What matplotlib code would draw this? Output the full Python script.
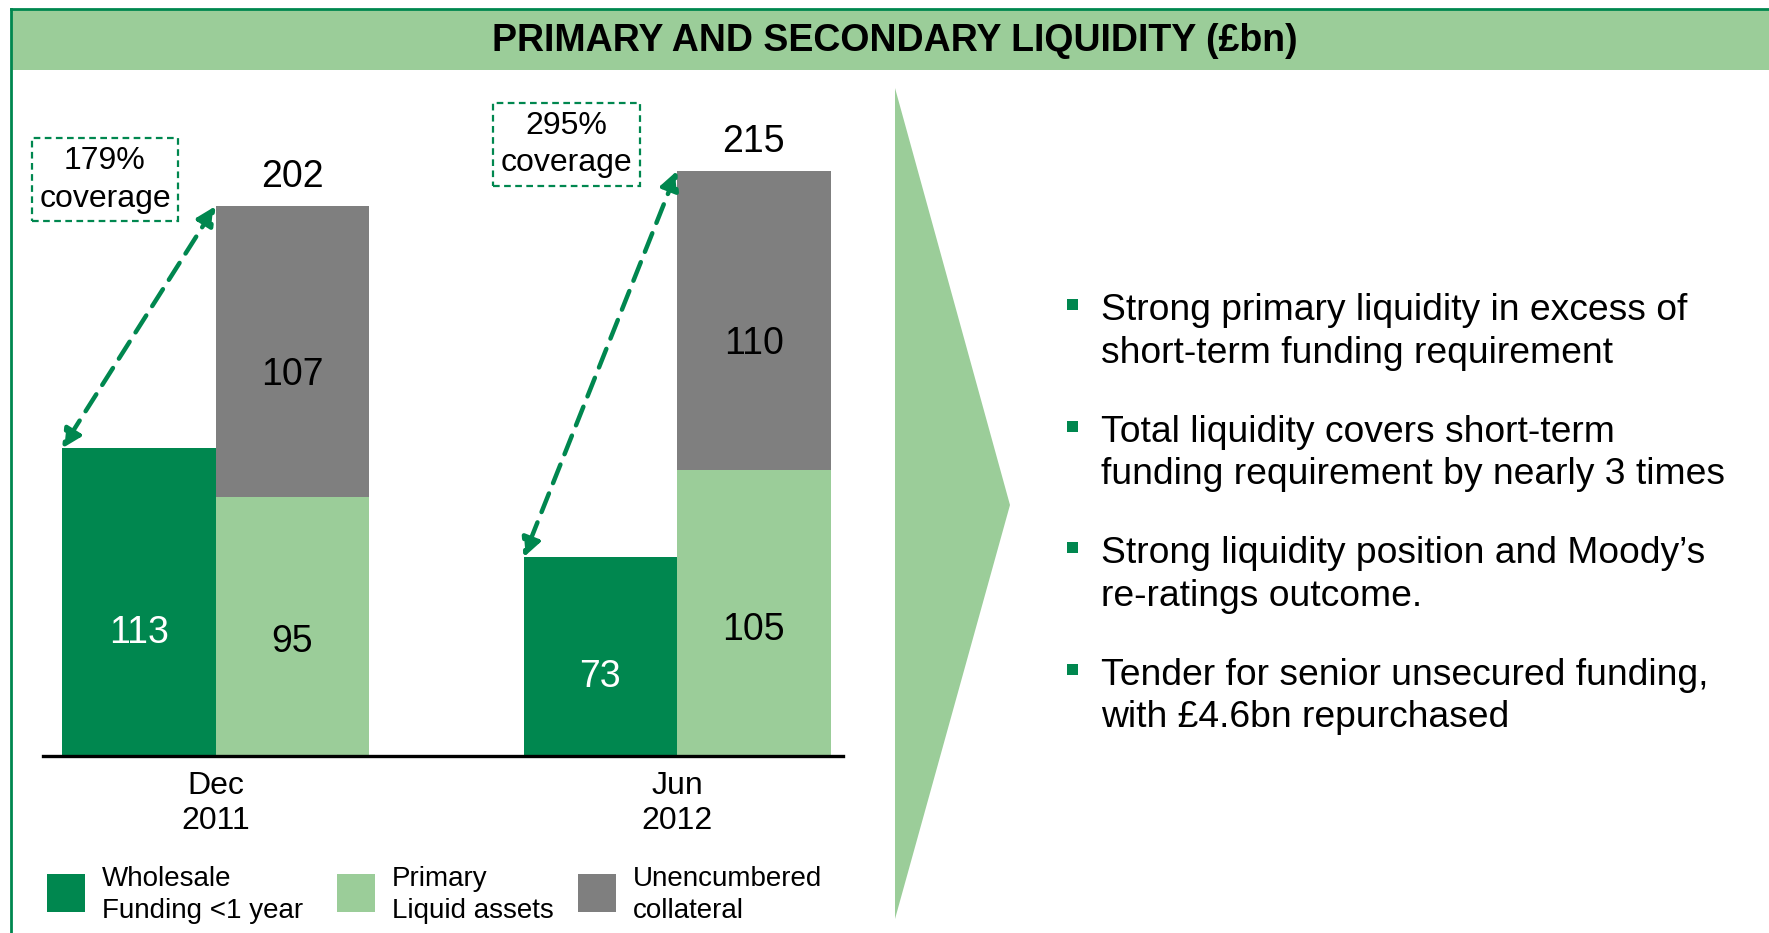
import numpy as np
import matplotlib.pyplot as plt
from matplotlib.patches import Rectangle, Polygon

plt.rcParams['font.family'] = ['Liberation Sans', 'DejaVu Sans']

# data (£bn)
periods = ['Dec\n2011', 'Jun\n2012']
wholesale = [113, 73]      # Wholesale Funding <1 year
primary = [95, 105]        # Primary Liquid assets
collateral = [107, 110]    # Unencumbered collateral
totals = [202, 215]
coverage = ['179%\ncoverage', '295%\ncoverage']

bullets = [
    'Strong primary liquidity in excess of\nshort-term funding requirement',
    'Total liquidity covers short-term\nfunding requirement by nearly 3 times',
    'Strong liquidity position and Moody\u2019s\nre-ratings outcome.',
    'Tender for senior unsecured funding,\nwith \u00a34.6bn repurchased',
]
legend_labels = ['Wholesale\nFunding <1 year', 'Primary\nLiquid assets', 'Unencumbered\ncollateral']

dark = '#00874f'
light = '#9bcd99'
grey = '#7f7f7f'
colors = [dark, light, grey]

W, H = 1769, 933
fig = plt.figure(figsize=(W / 100, H / 100), dpi=100)

# background layer in pixel coords
bg = fig.add_axes([0, 0, 1, 1])
bg.set_xlim(0, W)
bg.set_ylim(H, 0)
bg.axis('off')

bg.add_patch(Rectangle((11, 9), W, 61, facecolor=light, edgecolor='none'))
bg.plot([11, W], [9, 9], color=dark, lw=2)
bg.plot([11, 11], [9, H], color=dark, lw=2)
bg.text(895, 41, 'PRIMARY AND SECONDARY LIQUIDITY (\u00a3bn)', ha='center', va='center',
        fontsize=27, fontweight='bold')

# chevron
bg.add_patch(Polygon([[895, 88], [1010, 505], [895, 919]], closed=True,
                     facecolor=light, edgecolor='none'))

# bullets
for i, b in enumerate(bullets):
    y = 332 + i * 121.5
    bg.add_patch(Rectangle((1067, y - 33), 11, 11, facecolor=dark, edgecolor='none'))
    bg.text(1101, y, b, ha='left', va='center', fontsize=26.8, linespacing=1.29)

# legend
leg_x = [47, 337, 578]
for lx, c, lab in zip(leg_x, colors, legend_labels):
    bg.add_patch(Rectangle((lx, 874), 38, 38, facecolor=c, edgecolor='none'))
    bg.text(lx + 55, 895, lab, ha='left', va='center', fontsize=20, linespacing=1.35)

# bar chart
ax = fig.add_axes([42.9 / W, 177 / H, (842.8 - 42.9) / W, 656 / H])
ax.patch.set_alpha(0)
x = np.arange(len(periods))
w = 0.3326
ax.bar(x - w / 2, wholesale, w, color=dark)
ax.bar(x + w / 2, primary, w, color=light)
ax.bar(x + w / 2, collateral, w, bottom=primary, color=grey)
ax.set_xlim(-0.374, 1.359)
ax.set_ylim(0, 241)
for s in ['top', 'left', 'right']:
    ax.spines[s].set_visible(False)
ax.spines['bottom'].set_linewidth(2.4)
ax.set_yticks([])
ax.set_xticks(x)
ax.set_xticklabels(periods, fontsize=23, linespacing=1.2)
ax.tick_params(axis='x', length=0, pad=11)

for i in range(len(periods)):
    ax.text(x[i] - w / 2, wholesale[i] * 0.4, str(wholesale[i]), ha='center', va='center',
            fontsize=27, color='white')
    ax.text(x[i] + w / 2, primary[i] * 0.44, str(primary[i]), ha='center', va='center',
            fontsize=27)
    ax.text(x[i] + w / 2, primary[i] + collateral[i] * 0.42, str(collateral[i]),
            ha='center', va='center', fontsize=27)
    ax.annotate(str(totals[i]), (x[i] + w / 2, totals[i]), xytext=(0, 21),
                textcoords='offset points', ha='center', va='center', fontsize=27)
    # coverage arrow
    ax.annotate('', xy=(x[i] - w, wholesale[i]), xytext=(x[i], totals[i]),
                arrowprops=dict(arrowstyle='<|-|>', color=dark, lw=3.2,
                                linestyle=(0, (4.5, 2.5)),
                                mutation_scale=28, shrinkA=0, shrinkB=0))
    # coverage box
    ax.annotate(coverage[i], (x[i] - 0.72 * w, totals[i]), xytext=(0, 19),
                textcoords='offset points', ha='center', va='center', fontsize=23,
                linespacing=1.33,
                bbox=dict(boxstyle='square,pad=0.24', facecolor='none', edgecolor=dark,
                          linestyle=(0, (3, 2)), lw=1.6))

fig.savefig('out.png', dpi=100)
